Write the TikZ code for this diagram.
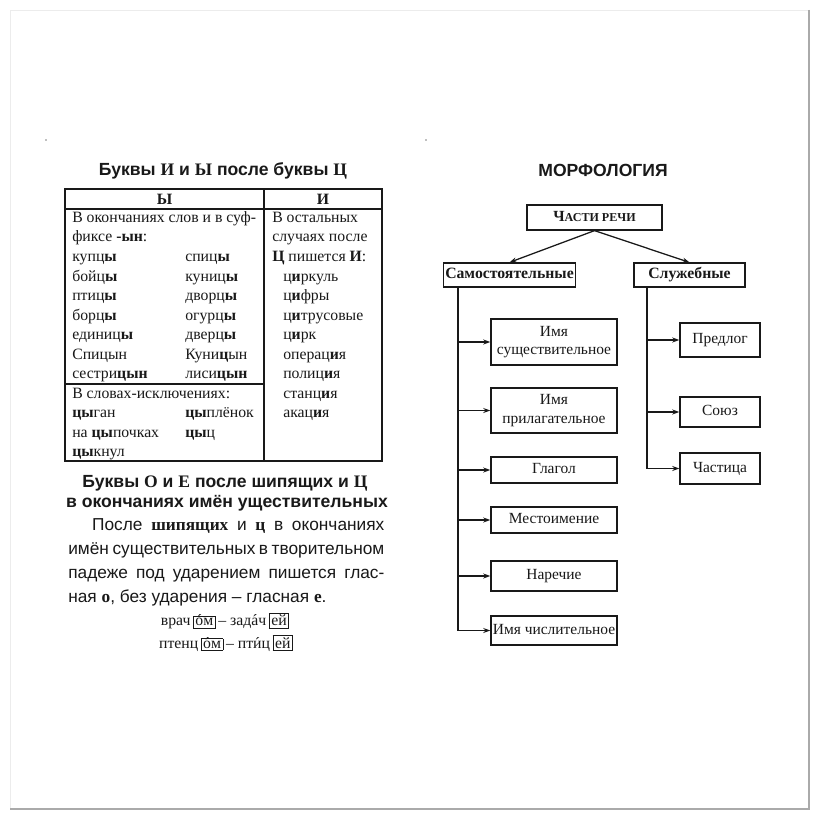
\documentclass[tikz,border=0pt]{standalone}
\usepackage{fontspec}
\setmainfont{Liberation Serif}
\setsansfont{Liberation Sans}
\usetikzlibrary{arrows.meta, positioning, calc}
\definecolor{inkblack}{RGB}{25, 25, 25}
\definecolor{pageedge}{RGB}{170, 170, 170}
\definecolor{pagefaint}{RGB}{236, 236, 236}
\newcommand{\serbf}[1]{{\rmfamily\bfseries #1}}
\newcommand{\tabfont}{\fontsize{11.2}{13.8}\selectfont}
\newcommand{\suffbox}[1]{{\setlength{\fboxsep}{1.2pt}\setlength{\fboxrule}{0.5pt}\fbox{#1}}}
\newcommand{\stressed}[1]{\ooalign{#1\cr\hidewidth ´\hidewidth\cr}}
\tikzset{
  cell/.style={anchor=base west, inner sep=0pt, font=\tabfont, text=inkblack},
  headline/.style={inner sep=0pt, text=inkblack, font=\sffamily\bfseries\fontsize{12.5}{17}\selectfont},
  posbox/.style={draw=inkblack, line width=0.9pt, align=center, inner sep=1pt, text=inkblack,
                 font=\fontsize{11}{13}\selectfont},
  oneline/.style={text height=1.55ex, text depth=0.45ex},
  lchild/.style={posbox, minimum width=3.15cm},
  rchild/.style={posbox, oneline, minimum width=2cm},
  feed/.style={draw=inkblack, line width=0.9pt, -{Stealth[length=5pt, width=3.5pt]}},
}

\begin{document}
\begin{tikzpicture}[x=0.025cm, y=-0.025cm]
    \useasboundingbox (0,0) rectangle (820,820);
    \fill[white] (0,0) rectangle (820,820);
    % page edge
    \draw[pagefaint] (10,809) -- (10,10) -- (809,10);
    \draw[pageedge, line width=1pt] (809,10) -- (809,809) -- (10,809);
    \fill[gray] (46,140) circle (0.9);
    \fill[gray] (426,140) circle (0.9);

    % ---- letters I and Y after C
    \node[headline] (titleA) at (223,171) {Буквы \serbf{И} и \serbf{Ы} после буквы \serbf{Ц}};

    \draw[inkblack, line width=1pt] (65,189) rectangle (382,461);
    \draw[inkblack, line width=0.8pt] (65,209) -- (382,209);
    \draw[inkblack, line width=0.8pt] (264,189) -- (264,461);
    \draw[inkblack, line width=0.8pt] (65,384) -- (264,384);
    \node[font=\tabfont\bfseries, text=inkblack] (headY) at (164.5,199.5) {Ы};
    \node[font=\tabfont\bfseries, text=inkblack] (headI) at (323,199.5) {И};

    \node[cell] (lt0) at (72,222.5) {В окончаниях слов и в суф-};
    \node[cell] (lt1) at (72,242) {фиксе \textbf{-ын}:};
    \foreach \k/\wa/\wb in {2/купц\textbf{ы}/спиц\textbf{ы}, 3/бойц\textbf{ы}/куниц\textbf{ы},
        4/птиц\textbf{ы}/дворц\textbf{ы}, 5/борц\textbf{ы}/огурц\textbf{ы},
        6/единиц\textbf{ы}/дверц\textbf{ы}, 7/Спицын/Куни\textbf{ц}ын,
        8/сестри\textbf{цын}/лиси\textbf{цын}}{
        \node[cell] (la\k) at (72,222.5+19.5*\k) {\wa};
        \node[cell] (lb\k) at (185,222.5+19.5*\k) {\wb};
    }
    \node[cell] (lt9) at (72,398) {В словах-исключениях:};
    \node[cell] (la10) at (72,417.5) {\textbf{цы}ган};
    \node[cell] (lb10) at (185,417.5) {\textbf{цы}плёнок};
    \node[cell] (la11) at (72,437) {на \textbf{цы}почках};
    \node[cell] (lb11) at (185,437) {\textbf{цы}ц};
    \node[cell] (la12) at (72,456.5) {\textbf{цы}кнул};

    \node[cell] (rt0) at (272,222.5) {В остальных};
    \node[cell] (rt1) at (272,242) {случаях после};
    \node[cell] (rt2) at (272,261.5) {\textbf{Ц} пишется \textbf{И}:};
    \foreach \k/\w in {3/ц\textbf{и}ркуль, 4/ц\textbf{и}фры, 5/ц\textbf{и}трусовые, 6/ц\textbf{и}рк,
        7/операц\textbf{и}я, 8/полиц\textbf{и}я, 9/станц\textbf{и}я, 10/акац\textbf{и}я}{
        \node[cell] (rw\k) at (283,222.5+19.5*\k) {\w};
    }

    % ---- letters O and E after sibilants
    \node[headline] (titleB) at (225,483) {Буквы \serbf{О} и \serbf{Е} после шипящих и \serbf{Ц}};
    \node[headline] (titleC) at (227,503) {в окончаниях имён уществительных};
    \node[anchor=north west, inner sep=0pt, text width=7.9cm, align=justify, text=inkblack,
          font=\sffamily\fontsize{12.3}{17.2}\selectfont] (rule) at (68,518) {%
        \hspace*{17pt}После \serbf{шипящих} и \serbf{ц} в окончаниях\linebreak
        имён существительных в творительном\linebreak
        падеже под ударением пишется глас-\linebreak
        ная \serbf{о}, без ударения – гласная \serbf{е}.};
    \node[inner sep=0pt, text=inkblack, font=\fontsize{11.2}{14}\selectfont] (exA) at (225,621)
        {врач\,\suffbox{\stressed{о}м}\,– зад\stressed{а}ч\,\suffbox{ей}};
    \node[inner sep=0pt, text=inkblack, font=\fontsize{11.2}{14}\selectfont] (exB) at (226,643)
        {птенц\,\suffbox{\stressed{о}м}\,– пт\stressed{и}ц\,\suffbox{ей}};

    % ---- morphology
    \node[headline] (morph) at (603,170) {МОРФОЛОГИЯ};
    \node[posbox, oneline, minimum width=3.375cm, minimum height=0.625cm] (parts) at (594.5,217.5)
        {\textbf{Ч{\fontsize{8.6}{10}\selectfont АСТИ РЕЧИ}}};
    \node[posbox, oneline, font=\bfseries\fontsize{11.2}{13}\selectfont, minimum width=3.225cm, minimum height=0.6cm]
        (indep) at (509.5,275) {Самостоятельные};
    \node[posbox, oneline, font=\bfseries\fontsize{11.2}{13}\selectfont, minimum width=2.775cm, minimum height=0.6cm]
        (aux) at (689.5,275) {Служебные};

    \node[lchild, minimum height=1.15cm] (noun) at (554,342) {Имя\\существительное};
    \node[lchild, minimum height=1.125cm] (adj) at (554,410.5) {Имя\\прилагательное};
    \node[lchild, oneline, minimum height=0.65cm] (verb) at (554,470) {Глагол};
    \node[lchild, oneline, minimum height=0.65cm] (pron) at (554,520) {Местоимение};
    \node[lchild, oneline, minimum height=0.75cm] (adv) at (554,576) {Наречие};
    \node[lchild, oneline, minimum height=0.725cm] (numer) at (554,630.5) {Имя числительное};

    \node[rchild, minimum height=0.85cm] (prep) at (720,340) {Предлог};
    \node[rchild, minimum height=0.75cm] (conj) at (720,412) {Союз};
    \node[rchild, minimum height=0.775cm] (part) at (720,468.5) {Частица};

    \draw[feed] (parts.south) -- (indep.north);
    \draw[feed] (parts.south) -- (aux.north);

    \coordinate (ltrunk) at (458,0);
    \coordinate (rtrunk) at (647,0);
    \draw[inkblack, line width=0.9pt] (indep.south -| ltrunk) -- (ltrunk |- numer.west);
    \draw[inkblack, line width=0.9pt] (aux.south -| rtrunk) -- (rtrunk |- part.west);
    \foreach \b in {noun, adj, verb, pron, adv, numer}
        \draw[feed] (ltrunk |- \b.west) -- (\b.west);
    \foreach \b in {prep, conj, part}
        \draw[feed] (rtrunk |- \b.west) -- (\b.west);
\end{tikzpicture}
\end{document}
